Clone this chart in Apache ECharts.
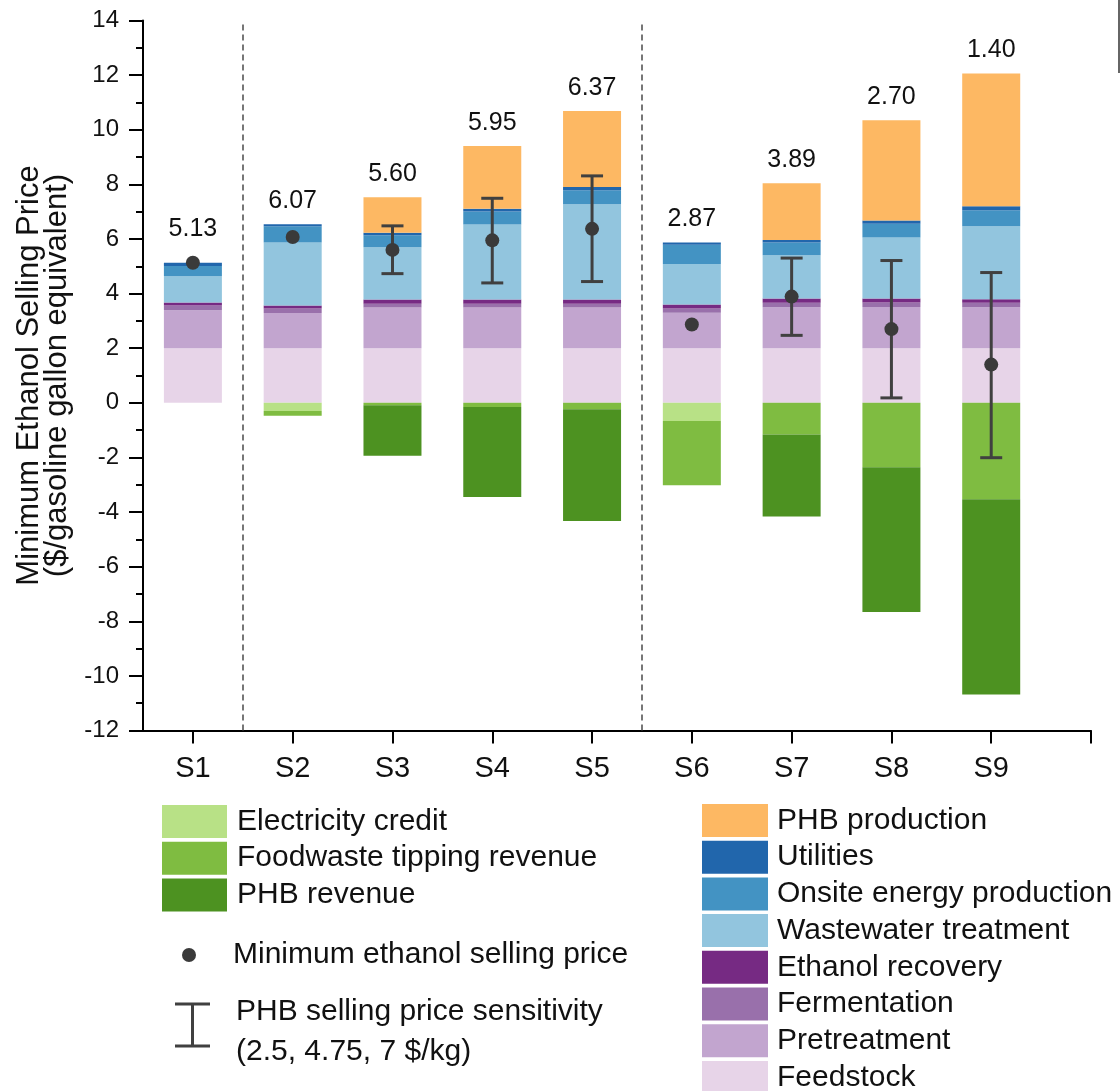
<!DOCTYPE html>
<html>
<head>
<meta charset="utf-8">
<title>Minimum Ethanol Selling Price by scenario</title>
<script src="https://cdn.jsdelivr.net/npm/echarts@6/dist/echarts.min.js"></script>
<style>
  html, body { margin: 0; padding: 0; background: #ffffff; }
  #chart { width: 1120px; height: 1091px; }
</style>
</head>
<body>
<div id="chart"></div>
<script>
// Scenarios
const categories = ['S1', 'S2', 'S3', 'S4', 'S5', 'S6', 'S7', 'S8', 'S9'];

// Cost contributions ($/gge), stacked upward from zero
const feedstock       = [2.00, 2.00, 2.00, 2.00, 2.00, 2.00, 2.00, 2.00, 2.00];
const pretreatment    = [1.39, 1.29, 1.49, 1.49, 1.49, 1.30, 1.50, 1.51, 1.50];
const fermentation    = [0.17, 0.16, 0.14, 0.14, 0.14, 0.15, 0.16, 0.16, 0.16];
const ethanolRecovery = [0.11, 0.11, 0.15, 0.15, 0.15, 0.15, 0.16, 0.15, 0.13];
const wastewater      = [0.96, 2.31, 1.92, 2.75, 3.49, 1.48, 1.58, 2.23, 2.68];
const onsiteEnergy    = [0.38, 0.60, 0.44, 0.48, 0.51, 0.71, 0.47, 0.51, 0.58];
const utilities       = [0.12, 0.07, 0.09, 0.10, 0.12, 0.08, 0.09, 0.12, 0.15];
const phbProduction   = [0, 0, 1.30, 2.29, 2.79, 0, 2.08, 3.67, 4.86];

// Credits and revenues ($/gge), stacked downward from zero
const electricityCredit = [0, -0.30, 0, 0, 0, -0.67, 0, 0, 0];
const foodwasteTipping  = [0, -0.17, -0.09, -0.15, -0.24, -2.35, -1.16, -2.36, -3.53];
const phbRevenue        = [0, 0, -1.85, -3.30, -4.09, 0, -3.00, -5.30, -7.15];

// Minimum ethanol selling price and PHB price sensitivity range
const mesp = [5.13, 6.07, 5.60, 5.95, 6.37, 2.87, 3.89, 2.70, 1.40];
const mespAtPhb7   = [null, null, 4.73, 4.39, 4.44, null, 2.47, 0.18, -2.01];
const mespAtPhb2_5 = [null, null, 6.48, 7.49, 8.31, null, 5.30, 5.21, 4.77];

// Axis ticks and scenario group separators
const yTicks = { min: -12, max: 14, step: 2 };
const groupBreaks = [1.5, 5.5];

const FONT = "'Liberation Sans', Arial, Helvetica, sans-serif";
const INK = '#111111';
const MARK = '#404040';
const BAR_W = 58;

const positions = categories.map((_, i) => i + 1);
const xTickValues = positions.concat([positions.length + 1]);

const positiveLayers = [
  { name: 'Feedstock', values: feedstock, color: '#e7d4e8' },
  { name: 'Pretreatment', values: pretreatment, color: '#c2a5cf' },
  { name: 'Fermentation', values: fermentation, color: '#9970ab' },
  { name: 'Ethanol recovery', values: ethanolRecovery, color: '#762a83' },
  { name: 'Wastewater treatment', values: wastewater, color: '#92c5de' },
  { name: 'Onsite energy production', values: onsiteEnergy, color: '#4393c3' },
  { name: 'Utilities', values: utilities, color: '#2166ac' },
  { name: 'PHB production', values: phbProduction, color: '#fdb863' }
];
const negativeLayers = [
  { name: 'Electricity credit', values: electricityCredit, color: '#b8e186' },
  { name: 'Foodwaste tipping revenue', values: foodwasteTipping, color: '#7fbc41' },
  { name: 'PHB revenue', values: phbRevenue, color: '#4d9221' }
];

// Running totals give each layer its [x, from, to] segment
function stackLayers(layers) {
  const running = categories.map(() => 0);
  return layers.map(layer => {
    const segs = layer.values.map((v, i) => {
      const from = running[i];
      running[i] += v;
      return [positions[i], from, running[i]];
    });
    return { layer, segs };
  });
}
const stacked = stackLayers(positiveLayers).concat(stackLayers(negativeLayers));
const barTops = categories.map((_, i) =>
  positiveLayers.reduce((s, l) => s + l.values[i], 0));

const MESP_NAME = 'Minimum ethanol selling price';
const SENS_NAME = 'PHB selling price sensitivity\n(2.5, 4.75, 7 $/kg)';

function renderSegment(params, api) {
  const x = api.value(0);
  const a = api.coord([x, api.value(1)]);
  const b = api.coord([x, api.value(2)]);
  const h = Math.abs(b[1] - a[1]);
  if (h < 0.01) return null;
  return {
    type: 'rect',
    shape: { x: a[0] - BAR_W / 2, y: Math.min(a[1], b[1]), width: BAR_W, height: h },
    style: { fill: api.visual('color') }
  };
}

const barSeries = stacked.map(({ layer, segs }, k) => {
  const s = {
    name: layer.name,
    type: 'custom',
    renderItem: renderSegment,
    itemStyle: { color: layer.color },
    encode: { x: 0, y: [1, 2] },
    data: segs,
    silent: true,
    z: 2
  };
  if (k === 0) {
    s.markLine = {
      silent: true,
      symbol: ['none', 'none'],
      label: { show: false },
      lineStyle: { type: [6, 4], color: '#4a4a4a', width: 1.5 },
      data: groupBreaks.map(v => ({ xAxis: v }))
    };
  }
  return s;
});

const sensitivityData = [];
categories.forEach((_, i) => {
  if (mespAtPhb7[i] !== null) {
    sensitivityData.push([positions[i], mespAtPhb7[i], mespAtPhb2_5[i]]);
  }
});

const legendText = { fontSize: 30, lineHeight: 33, color: INK, fontFamily: FONT };

const option = {
  backgroundColor: '#ffffff',
  animation: false,
  textStyle: { fontFamily: FONT },
  grid: {
    left: 143, top: 20.5, width: 948, height: 710,
    containLabel: false,
    outerBoundsMode: 'none'
  },
  xAxis: {
    type: 'value',
    min: 0.5,
    max: positions.length + 1,
    axisLine: { show: true, onZero: false, lineStyle: { color: '#000', width: 2 } },
    axisTick: { show: true, length: 13, customValues: xTickValues, lineStyle: { color: '#000', width: 2 } },
    axisLabel: {
      customValues: positions,
      formatter: v => categories[Math.round(v) - 1] || '',
      fontSize: 29, color: INK, margin: 24, fontFamily: FONT
    },
    splitLine: { show: false }
  },
  yAxis: {
    type: 'value',
    min: yTicks.min, max: yTicks.max, interval: yTicks.step,
    axisLine: { show: true, onZero: false, lineStyle: { color: '#000', width: 2 } },
    axisTick: { show: true, length: 14, lineStyle: { color: '#000', width: 2 } },
    minorTick: { show: true, splitNumber: 2, length: 7, lineStyle: { color: '#000', width: 2 } },
    splitLine: { show: false },
    axisLabel: { fontSize: 24, color: INK, margin: 24, fontFamily: FONT },
    name: 'Minimum Ethanol Selling Price\n($/gasoline gallon equivalent)',
    nameLocation: 'middle',
    nameRotate: 90,
    nameGap: 66,
    nameTextStyle: { fontSize: 31, lineHeight: 28, color: INK, fontFamily: FONT }
  },
  legend: [
    {
      selectedMode: false,
      orient: 'vertical',
      padding: 0,
      left: 162, top: 805, height: 300,
      itemWidth: 65, itemHeight: 33, itemGap: 3.7,
      icon: 'rect',
      textStyle: Object.assign({ padding: [0, 0, 0, 5] }, legendText),
      data: negativeLayers.map(l => l.name)
    },
    {
      selectedMode: false,
      orient: 'vertical',
      padding: 0,
      left: 702, top: 804, height: 400,
      itemWidth: 66, itemHeight: 33, itemGap: 3.7,
      icon: 'rect',
      textStyle: Object.assign({ padding: [0, 0, 0, 4] }, legendText),
      data: positiveLayers.slice().reverse().map(l => l.name)
    },
    {
      selectedMode: false,
      orient: 'vertical',
      padding: 0,
      left: 182, top: 938.5,
      itemWidth: 14, itemHeight: 14,
      icon: 'circle',
      textStyle: Object.assign({ padding: [0, 0, 0, 32] }, legendText),
      data: [MESP_NAME]
    },
    {
      selectedMode: false,
      orient: 'vertical',
      padding: 0,
      left: 175, top: 992,
      itemWidth: 35, itemHeight: 59,
      // I-beam glyph; the zero-area point below it lifts the beam above the text centre
      icon: 'path://M0,0H35V3H19V42H35V45H0V42H16V3H0ZM17,59L18,59Z',
      textStyle: { fontSize: 30, lineHeight: 40, color: INK, fontFamily: FONT, padding: [0, 0, 0, 21] },
      data: [SENS_NAME]
    }
  ],
  series: barSeries.concat([
    {
      name: SENS_NAME,
      type: 'custom',
      itemStyle: { color: MARK },
      encode: { x: 0, y: [1, 2] },
      data: sensitivityData,
      silent: true,
      z: 5,
      renderItem(params, api) {
        const x = api.value(0);
        const lo = api.coord([x, api.value(1)]);
        const hi = api.coord([x, api.value(2)]);
        const hw = 11;
        const style = { stroke: MARK, lineWidth: 3, fill: null };
        return {
          type: 'group',
          children: [
            { type: 'line', shape: { x1: hi[0], y1: hi[1], x2: lo[0], y2: lo[1] }, style },
            { type: 'line', shape: { x1: hi[0] - hw, y1: hi[1], x2: hi[0] + hw, y2: hi[1] }, style },
            { type: 'line', shape: { x1: lo[0] - hw, y1: lo[1], x2: lo[0] + hw, y2: lo[1] }, style }
          ]
        };
      }
    },
    {
      name: MESP_NAME,
      type: 'scatter',
      symbol: 'circle',
      symbolSize: 14,
      itemStyle: { color: '#3a3a3a', opacity: 1 },
      data: mesp.map((v, i) => [positions[i], v]),
      silent: true,
      z: 6
    },
    {
      name: 'MESP value',
      type: 'custom',
      silent: true,
      data: mesp.map((v, i) => [positions[i], barTops[i], v]),
      encode: { x: 0, y: 1 },
      z: 7,
      renderItem(params, api) {
        const x = api.value(0);
        const top = api.coord([x, api.value(1)]);
        const dot = api.coord([x, api.value(2)]);
        const y = Math.min(top[1] - 23, dot[1] - 34);
        return {
          type: 'text',
          x: top[0],
          y: y,
          style: {
            text: api.value(2).toFixed(2),
            fontSize: 25,
            fontFamily: FONT,
            fill: INK,
            align: 'center',
            verticalAlign: 'middle'
          }
        };
      }
    }
  ]),
  graphic: [
    {
      type: 'line',
      silent: true,
      shape: { x1: 1119, y1: 0, x2: 1119, y2: 73 },
      style: { stroke: '#666666', lineWidth: 2 }
    }
  ]
};

const chart = echarts.init(document.getElementById('chart'), null, { renderer: 'canvas' });
chart.setOption(option);
</script>
</body>
</html>
